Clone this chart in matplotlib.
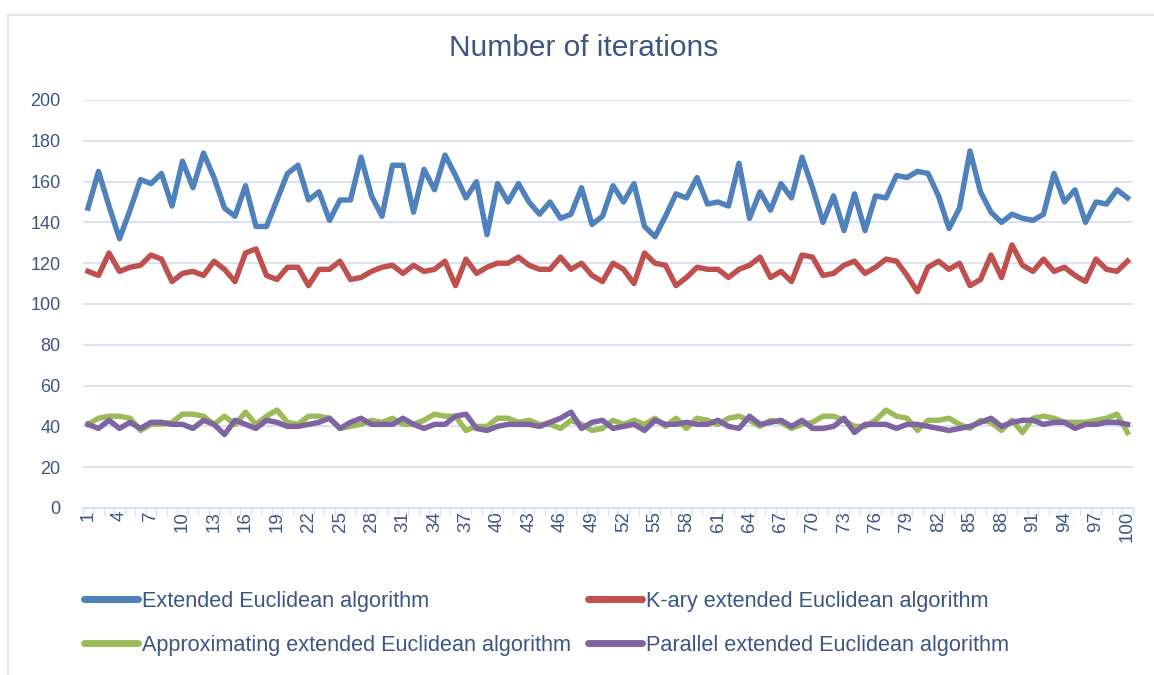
import numpy as np
import matplotlib
matplotlib.use("Agg")
import matplotlib.pyplot as plt
from matplotlib.patches import Rectangle

runs = list(range(1, 101))

extended = [147, 165, 148, 132, 146, 161, 159, 164, 148, 170,
            157, 174, 162, 147, 143, 158, 138, 138, 151, 164,
            168, 151, 155, 141, 151, 151, 172, 153, 143, 168,
            168, 145, 166, 156, 173, 163, 152, 160, 134, 159,
            150, 159, 150, 144, 150, 142, 144, 157, 139, 143,
            158, 150, 159, 138, 133, 143, 154, 152, 162, 149,
            150, 148, 169, 142, 155, 146, 159, 152, 172, 157,
            140, 153, 136, 154, 136, 153, 152, 163, 162, 165,
            164, 153, 137, 147, 175, 155, 145, 140, 144, 142,
            141, 144, 164, 150, 156, 140, 150, 149, 156, 152]

kary = [116, 114, 125, 116, 118, 119, 124, 122, 111, 115,
        116, 114, 121, 117, 111, 125, 127, 114, 112, 118,
        118, 109, 117, 117, 121, 112, 113, 116, 118, 119,
        115, 119, 116, 117, 121, 109, 122, 115, 118, 120,
        120, 123, 119, 117, 117, 123, 117, 120, 114, 111,
        120, 117, 110, 125, 120, 119, 109, 113, 118, 117,
        117, 113, 117, 119, 123, 113, 116, 111, 124, 123,
        114, 115, 119, 121, 115, 118, 122, 121, 114, 106,
        118, 121, 117, 120, 109, 112, 124, 113, 129, 119,
        116, 122, 116, 118, 114, 111, 122, 117, 116, 121]

approx = [41, 44, 45, 45, 44, 38, 41, 41, 42, 46,
          46, 45, 41, 45, 41, 47, 41, 45, 48, 42,
          41, 45, 45, 44, 39, 40, 41, 43, 42, 44,
          41, 41, 43, 46, 45, 45, 38, 40, 40, 44,
          44, 42, 43, 41, 41, 39, 43, 41, 38, 39,
          43, 41, 43, 41, 44, 40, 44, 39, 44, 43,
          41, 44, 45, 43, 40, 43, 42, 39, 41, 42,
          45, 45, 43, 40, 40, 43, 48, 45, 44, 38,
          43, 43, 44, 41, 39, 43, 42, 38, 43, 37,
          44, 45, 44, 42, 42, 42, 43, 44, 46, 37]

parallel = [41, 39, 43, 39, 42, 39, 42, 42, 41, 41,
            39, 43, 41, 36, 43, 41, 39, 43, 42, 40,
            40, 41, 42, 44, 39, 42, 44, 41, 41, 41,
            44, 41, 39, 41, 41, 45, 46, 39, 38, 40,
            41, 41, 41, 40, 42, 44, 47, 39, 42, 43,
            39, 40, 41, 38, 43, 41, 41, 42, 41, 41,
            43, 40, 39, 45, 41, 42, 43, 40, 43, 39,
            39, 40, 44, 37, 41, 41, 41, 39, 41, 41,
            40, 39, 38, 39, 40, 42, 44, 40, 42, 43,
            43, 41, 42, 42, 39, 41, 41, 42, 42, 41]

series = [
    ("Extended Euclidean algorithm", extended, "#4F81BD"),
    ("K-ary extended Euclidean algorithm", kary, "#C0504D"),
    ("Approximating extended Euclidean algorithm", approx, "#9BBB59"),
    ("Parallel extended Euclidean algorithm", parallel, "#8064A2"),
]

plt.rcParams["font.family"] = ["Liberation Sans", "DejaVu Sans"]

text_color = "#3B5683"
grid_color = "#D6E1F1"

W, H = 1154, 675
fig = plt.figure(figsize=(W / 100, H / 100), dpi=100)
ax = fig.add_axes([82.75 / W, (H - 508) / H, 1050 / W, 408 / H])

lines = []
for label, vals, color in series:
    ln, = ax.plot(runs, vals, color=color, lw=3.9, label=label, solid_joinstyle="round")
    lines.append(ln)

ax.set_xlim(0.5, 100.5)
ax.set_ylim(0, 200)
ax.set_yticks(np.arange(0, 201, 20))
ax.grid(axis="y", color=grid_color, lw=1.3)
ax.set_axisbelow(True)
for s in ["top", "right", "left"]:
    ax.spines[s].set_visible(False)
ax.spines["bottom"].set_color(grid_color)
ax.spines["bottom"].set_linewidth(1.3)

ax.set_xticks(runs[::3])
ax.set_xticklabels([str(r) for r in runs[::3]], rotation=90)
ax.set_xticks(np.arange(0.5, 101, 1), minor=True)
ax.tick_params(axis="x", which="major", length=0, pad=2, labelsize=13.5, labelcolor=text_color)
ax.tick_params(axis="x", which="minor", length=5, color=grid_color, width=1)
ax.tick_params(axis="y", length=0, pad=16, labelsize=13, labelcolor=text_color)

fig.text(584 / W, 1 - 48 / H, "Number of iterations", ha="center", va="center",
         fontsize=21.5, color=text_color)

# legend fills column-wise, so order entries to read row by row
order = [0, 2, 1, 3]
leg = fig.legend([lines[i] for i in order], [series[i][0] for i in order],
                 loc="upper left", bbox_to_anchor=(84 / W, 1 - 591 / H), ncol=2,
                 frameon=False, fontsize=15.6, handlelength=2.5, handletextpad=0.2,
                 columnspacing=0.75, labelspacing=1.05, borderaxespad=0, borderpad=0)
for t in leg.get_texts():
    t.set_color(text_color)
for h in leg.legend_handles:
    h.set_linewidth(5)
    h.set_solid_capstyle("round")

fig.patches.append(Rectangle((8 / W, -0.05), 1.1, 1 - 15 / H + 0.05, transform=fig.transFigure,
                             fill=False, edgecolor="#D9E1EC", lw=1.2, clip_on=False))

fig.savefig("out.png", dpi=100)
